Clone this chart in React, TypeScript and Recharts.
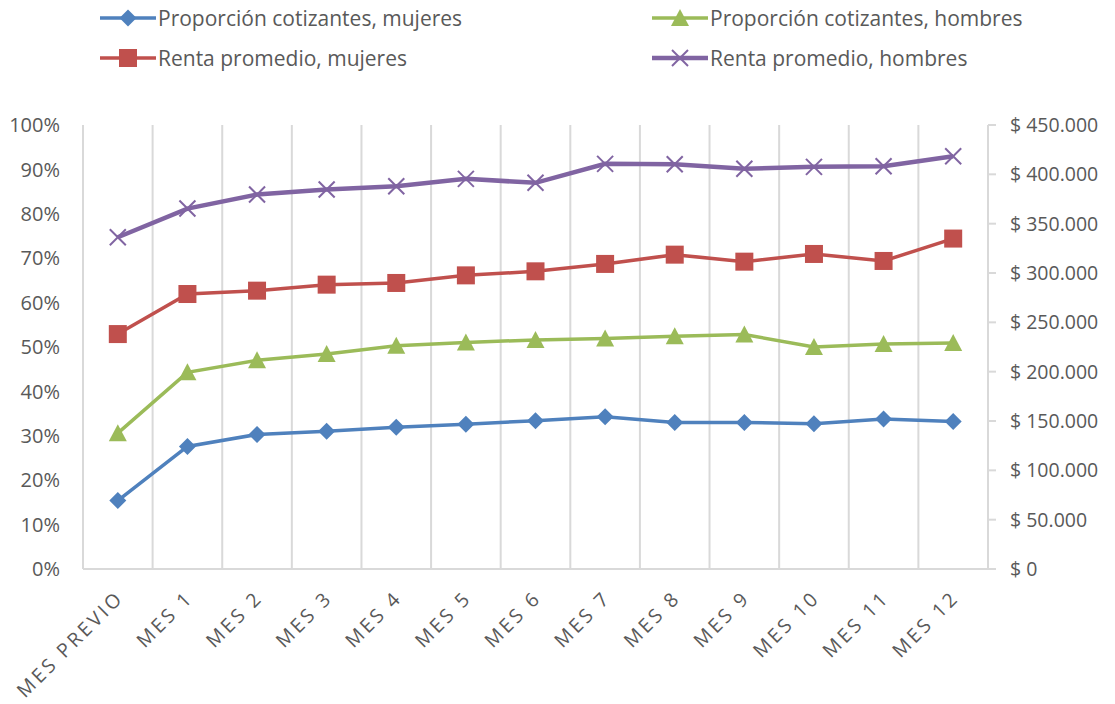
import React from "react";
import { LineChart, Line, XAxis, YAxis, ReferenceLine, Legend } from "recharts";

const categories = [
  "MES PREVIO", "MES 1", "MES 2", "MES 3", "MES 4", "MES 5", "MES 6",
  "MES 7", "MES 8", "MES 9", "MES 10", "MES 11", "MES 12",
];
// porcentaje (eje izq.)
const propMujeres = [15.4, 27.6, 30.3, 31.0, 31.9, 32.6, 33.4, 34.3, 33.0, 33.0, 32.7, 33.8, 33.2];
const propHombres = [30.6, 44.3, 47.0, 48.4, 50.3, 51.0, 51.6, 51.9, 52.4, 52.8, 50.0, 50.7, 50.9];
// pesos (eje der.)
const rentaMujeres = [238100, 278700, 282100, 288200, 289900, 297600, 301700, 309200, 318600, 311500, 319300, 312200, 334900];
const rentaHombres = [336200, 365300, 379500, 384600, 387900, 395400, 391400, 410600, 410300, 405600, 407600, 408200, 418400];

const pctTicks = [0, 10, 20, 30, 40, 50, 60, 70, 80, 90, 100];
const moneyTicks = [0, 50000, 100000, 150000, 200000, 250000, 300000, 350000, 400000, 450000];

const data = categories.map((c, i) => ({
  idx: i,
  cat: c,
  propMujeres: propMujeres[i],
  propHombres: propHombres[i],
  rentaMujeres: rentaMujeres[i],
  rentaHombres: rentaHombres[i],
}));

const BLUE = "#4F81BD";
const RED = "#C0504D";
const GREEN = "#9BBB59";
const PURPLE = "#8064A2";
const GRID = "#d9d9d9";
const TEXT = "#595959";
const FONT = "'Open Sans', sans-serif";

const fmtMoney = (v: number) =>
  "$ " + (v === 0 ? "0" : Math.round(v).toString().replace(/\B(?=(\d{3})+(?!\d))/g, "."));

function Marker({ kind, cx, cy, color }: { kind: string; cx: number; cy: number; color: string }) {
  if (kind === "diamond") {
    return <polygon points={`${cx},${cy - 8.5} ${cx + 8.5},${cy} ${cx},${cy + 8.5} ${cx - 8.5},${cy}`} fill={color} />;
  }
  if (kind === "square") {
    return <rect x={cx - 9} y={cy - 9} width={18} height={18} fill={color} />;
  }
  if (kind === "triangle") {
    return <polygon points={`${cx},${cy - 9} ${cx + 9},${cy + 8} ${cx - 9},${cy + 8}`} fill={color} />;
  }
  return (
    <g stroke={color} strokeWidth={2}>
      <line x1={cx - 8} y1={cy - 8} x2={cx + 8} y2={cy + 8} />
      <line x1={cx - 8} y1={cy + 8} x2={cx + 8} y2={cy - 8} />
    </g>
  );
}

const makeDot = (kind: string, color: string) => (props: any) => {
  const { cx, cy, index } = props;
  if (cx == null || cy == null) return <g key={index} />;
  return (
    <g key={index}>
      <Marker kind={kind} cx={cx} cy={cy} color={color} />
    </g>
  );
};

const legendItems = [
  { label: "Proporción cotizantes, mujeres", kind: "diamond", color: BLUE, w: 3.5, left: 100, top: 18 },
  { label: "Proporción cotizantes, hombres", kind: "triangle", color: GREEN, w: 3.5, left: 652, top: 18 },
  { label: "Renta promedio, mujeres", kind: "square", color: RED, w: 3.5, left: 100, top: 58 },
  { label: "Renta promedio, hombres", kind: "x", color: PURPLE, w: 4.5, left: 652, top: 58 },
];

function LegendBox() {
  return (
    <div style={{ position: "relative", width: 1115, height: 80 }}>
      {legendItems.map((it) => (
        <div
          key={it.label}
          style={{
            position: "absolute",
            left: it.left,
            top: it.top - 14,
            height: 28,
            display: "flex",
            alignItems: "center",
            whiteSpace: "nowrap",
          }}
        >
          <svg width={56} height={28}>
            <line x1={0} y1={14} x2={56} y2={14} stroke={it.color} strokeWidth={it.w} />
            <Marker kind={it.kind} cx={28} cy={14} color={it.color} />
          </svg>
          <span style={{ marginLeft: 2, fontFamily: FONT, fontSize: 21, color: TEXT }}>{it.label}</span>
        </div>
      ))}
    </div>
  );
}

function XTick(props: any) {
  const { x, y, payload } = props;
  return (
    <g transform={`translate(${x + 7},${y + 30})`}>
      <text
        textAnchor="end"
        transform="rotate(-45)"
        fill={TEXT}
        fontSize={19.5}
        fontFamily={FONT}
        letterSpacing={3}
      >
        {categories[payload.value]}
      </text>
    </g>
  );
}

const boundaries = categories.map((_, i) => i - 0.5);

export default function App() {
  return (
    <div style={{ position: "absolute", left: 0, top: 0, background: "#fff" }}>
      <LineChart
        width={1115}
        height={704}
        data={data}
        margin={{ top: 45, right: 0, bottom: 0, left: 0 }}
        style={{ fontFamily: FONT }}
      >
        <Legend
          verticalAlign="top"
          align="left"
          content={() => <LegendBox />}
          wrapperStyle={{ top: 0, left: 0, width: 1115, height: 80 }}
        />
        {boundaries.map((b) => (
          <ReferenceLine key={b} x={b} yAxisId="left" stroke={GRID} strokeWidth={2} />
        ))}
        <XAxis
          dataKey="idx"
          type="number"
          domain={[-0.5, 12.5]}
          ticks={categories.map((_, i) => i)}
          interval={0}
          height={135}
          tickLine={false}
          tickSize={0}
          tickMargin={0}
          axisLine={{ stroke: GRID, strokeWidth: 2 }}
          tick={<XTick />}
        />
        <YAxis
          yAxisId="left"
          orientation="left"
          width={83}
          domain={[0, 100]}
          ticks={pctTicks}
          tickFormatter={(v: number) => `${v}%`}
          axisLine={false}
          tickLine={false}
          tickSize={0}
          tickMargin={23}
          tick={{ fill: TEXT, fontSize: 20, fontFamily: FONT }}
        />
        <YAxis
          yAxisId="right"
          orientation="right"
          width={127}
          domain={[0, 450000]}
          ticks={moneyTicks}
          tickFormatter={fmtMoney}
          axisLine={{ stroke: GRID, strokeWidth: 2 }}
          tickLine={{ stroke: GRID, strokeWidth: 2 }}
          tickSize={8}
          tickMargin={14}
          tick={{ fill: TEXT, fontSize: 19.5, fontFamily: FONT, textAnchor: "start" }}
        />
        <Line
          yAxisId="left"
          dataKey="propMujeres"
          stroke={BLUE}
          strokeWidth={3.5}
          dot={makeDot("diamond", BLUE)}
          activeDot={false}
          isAnimationActive={false}
        />
        <Line
          yAxisId="left"
          dataKey="propHombres"
          stroke={GREEN}
          strokeWidth={3.5}
          dot={makeDot("triangle", GREEN)}
          activeDot={false}
          isAnimationActive={false}
        />
        <Line
          yAxisId="right"
          dataKey="rentaMujeres"
          stroke={RED}
          strokeWidth={3.5}
          dot={makeDot("square", RED)}
          activeDot={false}
          isAnimationActive={false}
        />
        <Line
          yAxisId="right"
          dataKey="rentaHombres"
          stroke={PURPLE}
          strokeWidth={4.5}
          dot={makeDot("x", PURPLE)}
          activeDot={false}
          isAnimationActive={false}
        />
      </LineChart>
    </div>
  );
}
